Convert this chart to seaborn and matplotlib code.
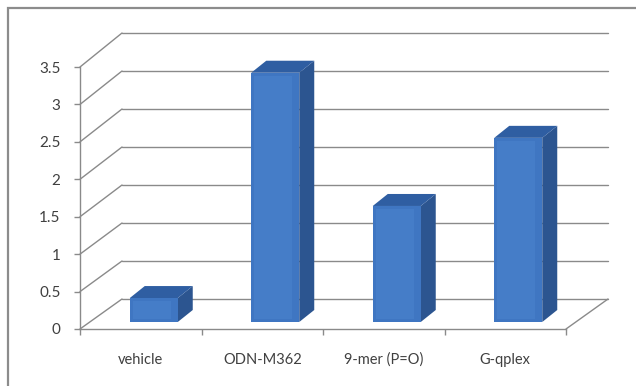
import matplotlib
matplotlib.use("Agg")
import matplotlib.pyplot as plt
import seaborn as sns
from matplotlib.transforms import Affine2D, IdentityTransform
from matplotlib.patches import Polygon, Rectangle
from matplotlib.lines import Line2D

categories = ["vehicle", "ODN-M362", "9-mer (P=O)", "G-qplex"]
values = [0.32, 3.33, 1.55, 2.46]
y_ticks = [0, 0.5, 1, 1.5, 2, 2.5, 3, 3.5]
y_labels = ["0", "0.5", "1", "1.5", "2", "2.5", "3", "3.5"]

W, H, DPI = 636, 386, 100
FRONT = "#3F76C2"
SIDE = "#2C5590"
TOP = "#2F5EA2"
GRID = "#8A8A8A"
TEXT = "#404040"

sns.set_theme(style="white")
plt.rcParams["font.family"] = ["Lato", "DejaVu Sans"]

fig = plt.figure(figsize=(W / DPI, H / DPI), dpi=DPI)
fig.patch.set_facecolor("white")


def px_axes(x0, x1, y_top, y_bot):
    """Axes placed by pixel edges (y measured from top)."""
    return fig.add_axes([x0 / W, 1 - y_bot / H, (x1 - x0) / W, (y_bot - y_top) / H])


# front plane (value axis + floor front edge) and back wall
ax = px_axes(80, 566, 67, 329)
back = px_axes(122, 608, 33, 299)
for a in (ax, back):
    a.set_xlim(-0.5, 3.5)
    a.set_ylim(0, 3.5)
    a.patch.set_alpha(0)
back.axis("off")

# back wall gridlines and left wall diagonals
for v in y_ticks:
    back.axhline(v, color=GRID, lw=1.0, zorder=0, clip_on=False)
    p0 = ax.transData.transform((-0.5, v))
    p1 = back.transData.transform((-0.5, v))
    fig.add_artist(Line2D([p0[0], p1[0]], [p0[1], p1[1]], color=GRID, lw=1.0,
                          transform=IdentityTransform(), zorder=0))
# right edge of the floor
p0 = ax.transData.transform((3.5, 0))
p1 = back.transData.transform((3.5, 0))
fig.add_artist(Line2D([p0[0], p1[0]], [p0[1], p1[1]], color=GRID, lw=1.0,
                      transform=IdentityTransform(), zorder=0))

# columns: front faces from seaborn, then side and top faces in depth
sns.barplot(x=categories, y=values, ax=ax, color=FRONT, width=0.395,
            saturation=1, edgecolor="none", zorder=3)
shift = Affine2D().translate(13, 7)
depth = (15, 12)
for p in ax.patches:
    p.set_transform(ax.transData + shift)
    x0, w, h = p.get_x(), p.get_width(), p.get_height()
    T = ax.transData + shift
    bl, br, tl, tr = T.transform([(x0, 0), (x0 + w, 0), (x0, h), (x0 + w, h)])
    dx, dy = depth
    side = Polygon([br, tr, (tr[0] + dx, tr[1] + dy), (br[0] + dx, br[1] + dy)],
                   closed=True, facecolor=SIDE, edgecolor="none",
                   transform=IdentityTransform(), zorder=2)
    top = Polygon([tl, tr, (tr[0] + dx, tr[1] + dy), (tl[0] + dx, tl[1] + dy)],
                  closed=True, facecolor=TOP, edgecolor="none",
                  transform=IdentityTransform(), zorder=2)
    fig.add_artist(side)
    fig.add_artist(top)
    # lighter inner panel on the front face
    if h > 0.2:
        inner = Polygon([(bl[0] + 3, bl[1] + 3), (br[0] - 7, br[1] + 3),
                         (tr[0] - 7, tr[1] - 3), (tl[0] + 3, tl[1] - 3)],
                        closed=True, facecolor="#4880CB", edgecolor="none",
                        transform=IdentityTransform(), zorder=4, alpha=0.7)
        fig.add_artist(inner)
ax.set_zorder(3)

# axis styling
for s in ("top", "right"):
    ax.spines[s].set_visible(False)
for s in ("left", "bottom"):
    ax.spines[s].set_color(GRID)
    ax.spines[s].set_linewidth(1.0)
ax.set_yticks(y_ticks)
ax.set_yticklabels(y_labels)
ax.set_xticks(range(len(categories)))
ax.set_xticklabels(categories)
ax.set_xticks([-0.5, 0.5, 1.5, 2.5, 3.5], minor=True)
ax.tick_params(axis="y", which="major", direction="out", length=4, width=1,
               color=GRID, labelsize=11, labelcolor=TEXT, pad=10, left=True)
ax.tick_params(axis="x", which="major", length=0, labelsize=10.5,
               labelcolor=TEXT, pad=17)
ax.tick_params(axis="x", which="minor", direction="out", length=4, width=1,
               color=GRID, bottom=True)
ax.set_xlabel("")
ax.set_ylabel("")
ax.grid(False)

# chart border
fig.add_artist(Rectangle((8, -20), W + 20, H - 8 + 20, fill=False,
                         edgecolor="#8C8C8C", lw=1.6,
                         transform=IdentityTransform(), zorder=10))

fig.savefig("out.png", dpi=DPI, facecolor="white")
